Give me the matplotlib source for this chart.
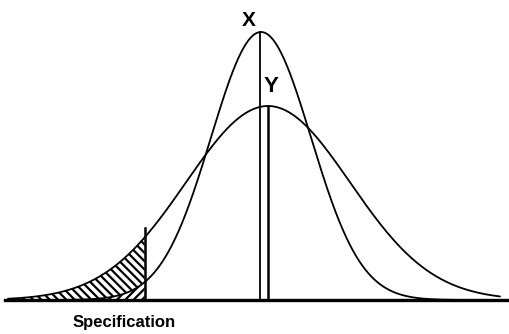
import numpy as np
import matplotlib
matplotlib.use("Agg")
import matplotlib.pyplot as plt

# Distribution parameters (pixel-like units)
curve_names = ["X", "Y"]
means = [261, 268]
sigmas = [50, 82]
heights = [268, 194]
spec_limit = 145
spec_label = "Specification"

plt.rcParams['hatch.linewidth'] = 1.6

fig = plt.figure(figsize=(5.09, 3.34), dpi=100)
ax = fig.add_axes([0, 0, 1, 1])
ax.set_xlim(0, 509)
ax.set_ylim(-34, 300)
ax.axis("off")

x = np.linspace(8, 500, 1200)
curves = []
for m, s, h in zip(means, sigmas, heights):
    y = h * np.exp(-0.5 * ((x - m) / s) ** 2)
    curves.append(y)
    ax.plot(x, y, color="black", lw=1.3, solid_capstyle="round")

# Hatched tail regions left of specification
mask = x <= spec_limit
ax.fill_between(x[mask], 0, curves[1][mask], facecolor="white", edgecolor="black",
                hatch="\\\\\\\\", lw=0)
ax.fill_between(x[mask], 0, curves[0][mask], facecolor="white", edgecolor="black",
                hatch="////", lw=0)

# Baseline
ax.plot([5, 509], [0, 0], color="black", lw=2.4)

# Mean lines
ax.plot([means[0] - 1, means[0] - 1], [0, heights[0]], color="black", lw=1.3)
ax.plot([means[1], means[1]], [0, heights[1]], color="black", lw=1.8)

# Spec line
ax.plot([spec_limit, spec_limit], [0, 72], color="black", lw=1.8)

# Labels
ax.text(249, 280, curve_names[0], ha="center", va="center", fontsize=15,
        fontweight="bold", family="Liberation Sans")
ax.text(271, 214, curve_names[1], ha="center", va="center", fontsize=16,
        fontweight="bold", family="Liberation Sans")
ax.text(124, -23, spec_label, ha="center", va="center", fontsize=12,
        fontweight="bold", family="Liberation Sans")

fig.savefig("out.png", dpi=100)
